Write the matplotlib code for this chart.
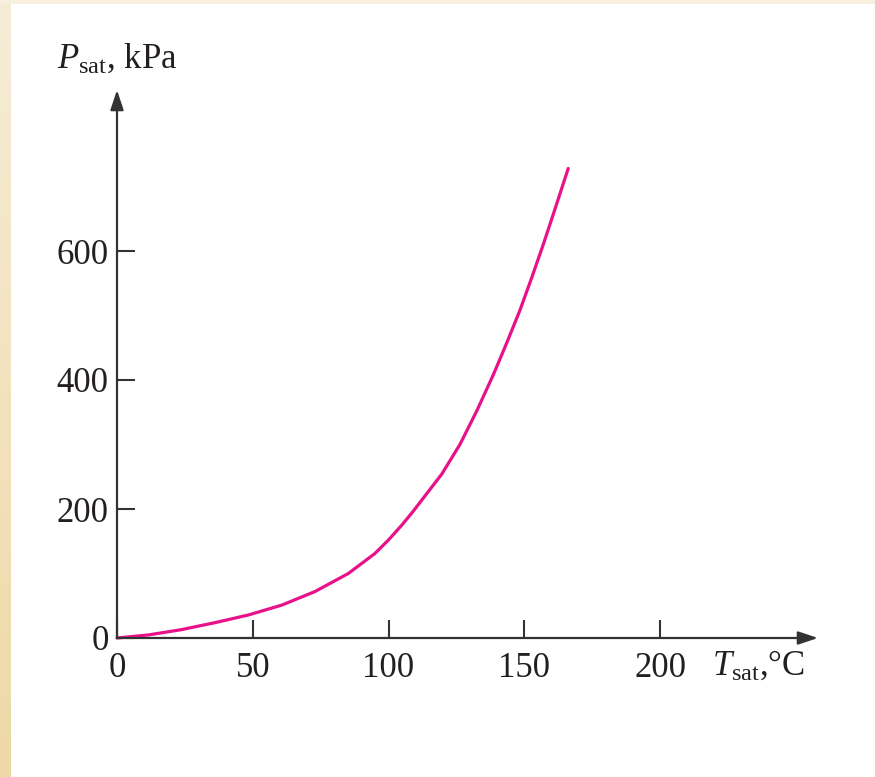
import numpy as np
import matplotlib
matplotlib.use('Agg')
import matplotlib.pyplot as plt

plt.rcParams['font.family'] = ['Liberation Serif', 'DejaVu Serif']
plt.rcParams['mathtext.fontset'] = 'custom'
plt.rcParams['mathtext.rm'] = 'Liberation Serif'
plt.rcParams['mathtext.it'] = 'Liberation Serif:italic'

# saturation curve
t_sat = [0, 11.5, 23.8, 36, 48.4, 60.7, 72.9, 85.2, 95, 100, 104.9, 109, 119.6, 126.3,
         132.5, 138.6, 143.5, 148.4, 152.7, 157, 160.7, 166.2]
p_sat = [0, 4.7, 13, 23.7, 35.7, 51, 72, 100, 131, 152, 175, 196, 254, 300,
         352, 408, 457, 508, 558, 610, 657, 728]

x_ticks = [0, 50, 100, 150, 200]
y_ticks = [0, 200, 400, 600]

W, H = 875, 777
fig = plt.figure(figsize=(W / 100, H / 100), dpi=100)
fig.patch.set_facecolor('white')

# beige strips at left and top edges
strip = fig.add_axes([0, 0, 11 / W, 1])
grad = np.linspace(0, 1, 256).reshape(-1, 1)
cmap = matplotlib.colors.LinearSegmentedColormap.from_list('bg', ['#EED8A6', '#F6EDD7'])
strip.imshow(grad, aspect='auto', cmap=cmap, origin='lower')
strip.axis('off')
top = fig.add_axes([0, 1 - 4 / H, 1, 4 / H])
top.set_facecolor('#F8F0DC')
top.set_xticks([])
top.set_yticks([])
for s in top.spines.values():
    s.set_visible(False)

x0, y0 = 117, 638
x1, y1 = 818, 90
ax = fig.add_axes([x0 / W, (H - y0) / H, (x1 - x0) / W, (y0 - y1) / H])
ax.set_xlim(0, (x1 - x0) / 2.715)
ax.set_ylim(0, (y0 - y1) / 0.645)
ax.patch.set_alpha(0)

ax.plot(t_sat, p_sat, color='#E8118A', lw=2.3, solid_capstyle='round',
        solid_joinstyle='round', clip_on=False)

for s in ax.spines.values():
    s.set_visible(False)
axis_col = '#333333'
arrow = dict(arrowstyle='-|>,head_length=1.2,head_width=0.4', lw=1.6, color=axis_col,
             shrinkA=0, shrinkB=0, mutation_scale=10)
ax.annotate('', xy=(1, 0), xytext=(0, 0), xycoords='axes fraction', arrowprops=arrow)
ax.annotate('', xy=(0, 1), xytext=(0, 0), xycoords='axes fraction', arrowprops=arrow)

ax.set_xticks(x_ticks)
ax.set_yticks(y_ticks)
ax.set_xticklabels([str(v) for v in x_ticks])
ax.set_yticklabels([str(v) for v in y_ticks])
ax.tick_params(direction='in', length=13, width=1.5, color=axis_col,
               labelsize=25, labelcolor='#231f20')
ax.tick_params(axis='x', pad=10)
ax.tick_params(axis='y', pad=6)

fig.text(57 / W, 1 - 68 / H, r'$P_{\rm sat}$, kPa', fontsize=25, color='#231f20',
         ha='left', va='baseline')
fig.text(712 / W, 1 - 675 / H, r'$T_{\rm sat}$,°C', fontsize=25, color='#231f20',
         ha='left', va='baseline')

fig.savefig('out.png', dpi=100)
